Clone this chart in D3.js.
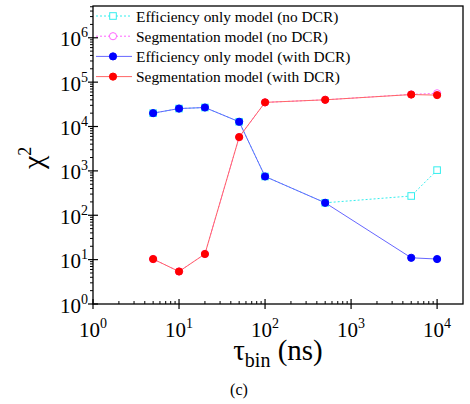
<!DOCTYPE html>
<html>
<head>
<meta charset="utf-8">
<script src="https://cdn.jsdelivr.net/npm/d3@7"></script>
<style>
  body { margin: 0; background: #fff; }
</style>
</head>
<body>
<div id="chart"></div>
<script>
// tau_bin values (ns)
const tauBin = [5, 10, 20, 50, 100, 500, 5000, 10000];
const effNoDcr = [20000, 25400, 26800, 12800, 748, 191, 272, 1040];
const segNoDcr = [10.3, 5.4, 13.4, 5770, 35000, 40000, 53000, 56000];
const effDcr = [20000, 25400, 26800, 12800, 748, 191, 11, 10.3];
const segDcr = [10.3, 5.4, 13.4, 5770, 35000, 40000, 52500, 51000];
const xTicks = [1, 10, 100, 1000, 10000];
const yTicks = [1, 10, 100, 1000, 10000, 100000, 1000000];

const series = [
    { name: "Efficiency only model (no DCR)", values: effNoDcr, line: "#33eeee", dash: "2,2", marker: "square", fill: "#fff", stroke: "#33eeee" },
    { name: "Segmentation model (no DCR)", values: segNoDcr, line: "#ff66ff", dash: "2,2", marker: "circle", fill: "#fff", stroke: "#ff66ff" },
    { name: "Efficiency only model (with DCR)", values: effDcr, line: "#6666ff", dash: null, marker: "circle", fill: "#0000ff", stroke: "#0000ff" },
    { name: "Segmentation model (with DCR)", values: segDcr, line: "#ff6666", dash: null, marker: "circle", fill: "#ff0000", stroke: "#ff0000" }
];

const W = 470, H = 404;
const margin = { top: 6, right: 7, bottom: 100, left: 93 };
const width = W - margin.left - margin.right;
const height = H - margin.top - margin.bottom;

const svg = d3.select("#chart").append("svg")
    .attr("width", W)
    .attr("height", H)
    .attr("font-family", "'Liberation Serif', 'DejaVu Serif', serif");

const g = svg.append("g")
    .attr("transform", `translate(${margin.left},${margin.top})`);

const x = d3.scaleLog().domain([1, 20000]).range([0, width]);
const y = d3.scaleLog().domain([1, 5.2e6]).range([height, 0]);

// minor ticks
const minors = dom => {
    const out = [];
    for (let e = 0; e < 7; e++) {
        for (let k = 2; k <= 9; k++) {
            const v = k * Math.pow(10, e);
            if (v > dom[0] && v < dom[1]) out.push(v);
        }
    }
    return out;
};

g.selectAll(".xminor").data(minors(x.domain())).enter().append("line")
    .attr("x1", d => x(d)).attr("x2", d => x(d))
    .attr("y1", height).attr("y2", height - 3)
    .attr("stroke", "#000").attr("stroke-width", 1);

g.selectAll(".yminor").data(minors(y.domain())).enter().append("line")
    .attr("x1", 0).attr("x2", -3)
    .attr("y1", d => y(d)).attr("y2", d => y(d))
    .attr("stroke", "#000").attr("stroke-width", 1);

g.selectAll(".xmajor").data(xTicks).enter().append("line")
    .attr("x1", d => x(d)).attr("x2", d => x(d))
    .attr("y1", height - 5).attr("y2", height + 5)
    .attr("stroke", "#000").attr("stroke-width", 1.2);

g.selectAll(".ymajor").data(yTicks).enter().append("line")
    .attr("x1", -5).attr("x2", 5)
    .attr("y1", d => y(d)).attr("y2", d => y(d))
    .attr("stroke", "#000").attr("stroke-width", 1.2);

// frame
g.append("rect")
    .attr("width", width).attr("height", height)
    .attr("fill", "none").attr("stroke", "#000").attr("stroke-width", 1.3);

// tick labels
const xl = g.selectAll(".xlab").data(xTicks).enter().append("text")
    .attr("x", d => x(d)).attr("y", height + 33)
    .attr("text-anchor", "middle")
    .style("font-size", "21px");
xl.append("tspan").text("10");
xl.append("tspan").attr("dy", -9).style("font-size", "14px").text(d => Math.round(Math.log10(d)));

const yl = g.selectAll(".ylab").data(yTicks).enter().append("text")
    .attr("x", -5).attr("y", d => y(d) + 8.5)
    .attr("text-anchor", "end")
    .style("font-size", "21px");
yl.append("tspan").text("10");
yl.append("tspan").attr("dy", -9).style("font-size", "14px").text(d => Math.round(Math.log10(d)));

// axis titles
const yt = svg.append("text")
    .attr("transform", "translate(43,169) rotate(-90)")
    .attr("text-anchor", "start")
    .style("font-size", "30px");
yt.append("tspan").text("χ");
yt.append("tspan").attr("dy", -12).style("font-size", "18px").text("2");

const xt = svg.append("text")
    .attr("x", 278).attr("y", 360)
    .attr("text-anchor", "middle")
    .style("font-size", "29px");
xt.append("tspan").text("τ");
xt.append("tspan").attr("dy", 7).style("font-size", "20px").text("bin");
xt.append("tspan").attr("dy", -7).text(" (ns)");

svg.append("text")
    .attr("x", 239).attr("y", 395)
    .attr("text-anchor", "middle")
    .style("font-size", "16px")
    .text("(c)");

// series
const line = d3.line().x(d => x(d[0])).y(d => y(d[1]));

const drawMarker = (sel, s, px, py) => {
    if (s.marker === "square") {
        sel.append("rect")
            .attr("x", px - 3.3).attr("y", py - 3.3)
            .attr("width", 6.6).attr("height", 6.6)
            .attr("fill", s.fill).attr("stroke", s.stroke).attr("stroke-width", 1);
    } else {
        sel.append("circle")
            .attr("cx", px).attr("cy", py).attr("r", 3.6)
            .attr("fill", s.fill).attr("stroke", s.stroke).attr("stroke-width", 1);
    }
};

series.forEach(s => {
    const pts = tauBin.map((t, i) => [t, s.values[i]]);
    const sg = g.append("g");
    sg.append("path")
        .attr("d", line(pts))
        .attr("fill", "none")
        .attr("stroke", s.line)
        .attr("stroke-width", 1)
        .attr("stroke-dasharray", s.dash);
    pts.forEach(p => drawMarker(sg, s, x(p[0]), y(p[1])));
});

// legend
const legend = g.append("g").attr("transform", "translate(3,10)");
series.forEach((s, i) => {
    const row = legend.append("g").attr("transform", `translate(0,${i * 20.2})`);
    row.append("line")
        .attr("x1", 0).attr("x2", 36).attr("y1", 0).attr("y2", 0)
        .attr("stroke", s.line).attr("stroke-width", 1)
        .attr("stroke-dasharray", s.dash);
    drawMarker(row, s, 17, 0);
    row.append("text")
        .attr("x", 40).attr("y", 5.5)
        .style("font-size", "15.4px")
        .text(s.name);
});
</script>
</body>
</html>
